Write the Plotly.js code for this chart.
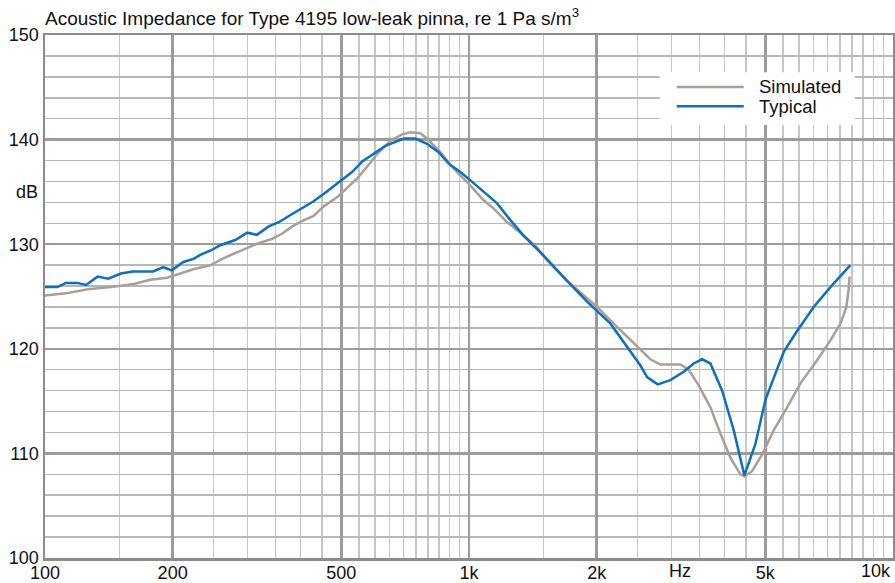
<!DOCTYPE html>
<html>
<head>
<meta charset="utf-8">
<script src="https://cdn.plot.ly/plotly-3.0.1.min.js"></script>
<style>html,body{margin:0;padding:0;background:#fff;}#chart{width:895px;height:583px;}</style>
</head>
<body>
<div id="chart"></div>
<script>
// Simulated curve
const simFreq = [100,112,126,143,162,177,194,209,224,246,262,279,300,319,343,362,383,408,430,454,489,516,545,575,607,653,695,727,768,796,856,912,954,1008,1083,1144,1230,1322,1447,1500,1703,2005,2235,2492,2677,2828,3151,3298,3481,3710,3916,4135,4366,4462,4653,4913,5231,5627,6047,6622,7119,7516,7764,7850,7900];
const simDb   = [125.1,125.3,125.7,125.9,126.2,126.6,126.8,127.2,127.6,128.0,128.6,129.1,129.6,130.1,130.5,131.0,131.7,132.3,132.7,133.6,134.5,135.4,136.3,137.4,138.6,139.9,140.5,140.7,140.6,140.1,138.8,137.4,136.6,135.6,134.2,133.4,132.1,131.1,129.7,128.8,126.5,124.0,122.1,120.2,119.0,118.5,118.5,118.0,116.5,114.4,111.9,109.6,108.0,107.8,108.3,109.9,112.2,114.4,116.7,118.9,120.8,122.4,124.0,125.5,126.9];

// Typical curve
const typFreq = [100,107,112,119,125,133,141,151,161,180,190,199,212,224,233,246,259,281,300,316,337,356,376,401,430,454,498,530,560,618,635,702,747,796,848,896,954,1008,1083,1165,1252,1346,1434,1500,1703,1899,2156,2446,2537,2630,2786,2985,3209,3388,3546,3710,3954,4211,4462,4737,5000,5231,5524,5939,6501,7119,7933];
const typDb   = [125.9,125.9,126.3,126.3,126.1,126.9,126.7,127.2,127.4,127.4,127.8,127.5,128.3,128.6,129.0,129.4,129.9,130.4,131.1,130.9,131.7,132.1,132.7,133.4,134.1,134.8,136.1,136.9,137.9,139.1,139.4,140.1,140.1,139.6,138.8,137.7,136.9,136.1,135.0,133.9,132.3,130.8,129.7,128.9,126.5,124.5,122.4,119.2,118.4,117.3,116.6,117.0,117.8,118.6,119.0,118.6,116.0,112.2,107.9,110.9,115.1,117.2,119.7,121.7,124.0,125.9,128.0];

// Series names and colours
const seriesNames = ['Simulated', 'Typical'];
const seriesColors = ['#a89f9b', '#0f6fbf'];

// Axis ticks
const xTickVals = [100,200,500,1000,2000,5000];
const xTickText = ['100','200','500','1k','2k','5k'];
const xMinorVals = [150,250,300,350,400,450,550,600,650,700,750,800,850,900,950,1500,2500,3000,3500,4000,4500,5500,6000,6500,7000,7500,8000,8500,9000,9500];
const yTickVals = [100,110,120,130,140,150];
const yTickText = ['100','110','120','130','140','150'];

const FONT = 'Liberation Sans, Arial, sans-serif';
const TXT = '#111';

const traces = [
  {x: simFreq, y: simDb, name: seriesNames[0], type: 'scatter', mode: 'lines',
   line: {color: seriesColors[0], width: 2.5}},
  {x: typFreq, y: typDb, name: seriesNames[1], type: 'scatter', mode: 'lines',
   line: {color: seriesColors[1], width: 2.5}}
];

// Manual legend (long line samples as in the original)
const legRect = {x0: 0.725, x1: 0.955, y0: 0.828, y1: 0.929};
const legRows = [0.9006, 0.864];
const legLine = {x0: 0.745, x1: 0.824};
const legTextX = 0.8396;

const shapes = [
  {type: 'rect', xref: 'paper', yref: 'paper', x0: legRect.x0, x1: legRect.x1, y0: legRect.y0, y1: legRect.y1,
   fillcolor: '#fff', line: {width: 0}, layer: 'above'}
];
const annotations = [
  {text: 'Hz', xref: 'x', yref: 'paper', x: Math.log10(3150), y: 0, yshift: -13,
   showarrow: false, xanchor: 'center', yanchor: 'middle', font: {family: FONT, size: 18, color: TXT}},
  {text: '10k', xref: 'x', yref: 'paper', x: 4, y: 0, yshift: -13,
   showarrow: false, xanchor: 'right', yanchor: 'middle', font: {family: FONT, size: 18, color: TXT}},
  {text: 'dB', xref: 'paper', yref: 'y', x: 0, y: 135, xshift: -5,
   showarrow: false, xanchor: 'right', yanchor: 'middle', font: {family: FONT, size: 18, color: TXT}}
];
seriesNames.forEach((nm, i) => {
  shapes.push({type: 'line', xref: 'paper', yref: 'paper', x0: legLine.x0, x1: legLine.x1,
               y0: legRows[i], y1: legRows[i], line: {color: seriesColors[i], width: 2.5}, layer: 'above'});
  annotations.push({text: nm, xref: 'paper', yref: 'paper', x: legTextX, y: legRows[i],
                    showarrow: false, xanchor: 'left', yanchor: 'middle',
                    font: {family: FONT, size: 18.5, color: TXT}});
});

const layout = {
  width: 895, height: 583,
  margin: {l: 45, r: 2, t: 35, b: 25},
  paper_bgcolor: '#fff', plot_bgcolor: '#fff',
  font: {family: FONT, size: 18, color: TXT},
  title: {text: 'Acoustic Impedance for Type 4195 low-leak pinna, re 1 Pa s/m<sup>3</sup>',
          font: {family: FONT, size: 19, color: TXT},
          x: 45/895, xref: 'container', xanchor: 'left',
          y: 1 - 18/583, yref: 'container', yanchor: 'middle'},
  showlegend: false,
  xaxis: {type: 'log', range: [2, 4], tickmode: 'array', tickvals: xTickVals, ticktext: xTickText,
          showgrid: true, gridcolor: '#9c9c9c', gridwidth: 2.5,
          minor: {tickmode: 'array', tickvals: xMinorVals, showgrid: true, gridcolor: '#c6c6c6', gridwidth: 1.5, ticks: ''},
          showline: true, mirror: true, linecolor: '#8c8c8c', linewidth: 2.5,
          ticks: '', zeroline: false, automargin: false, ticklabelstandoff: -3,
          tickfont: {family: FONT, size: 18, color: TXT}},
  yaxis: {range: [100, 150], tickmode: 'array', tickvals: yTickVals, ticktext: yTickText,
          showgrid: true, gridcolor: '#9c9c9c', gridwidth: 2.5,
          minor: {dtick: 2, showgrid: true, gridcolor: '#b8b8b8', gridwidth: 1.5, ticks: ''},
          showline: true, mirror: true, linecolor: '#8c8c8c', linewidth: 2.5,
          ticks: '', zeroline: false, automargin: false,
          tickfont: {family: FONT, size: 18, color: TXT}},
  shapes: shapes,
  annotations: annotations
};

Plotly.newPlot('chart', traces, layout, {displayModeBar: false, staticPlot: true});
</script>
</body>
</html>
